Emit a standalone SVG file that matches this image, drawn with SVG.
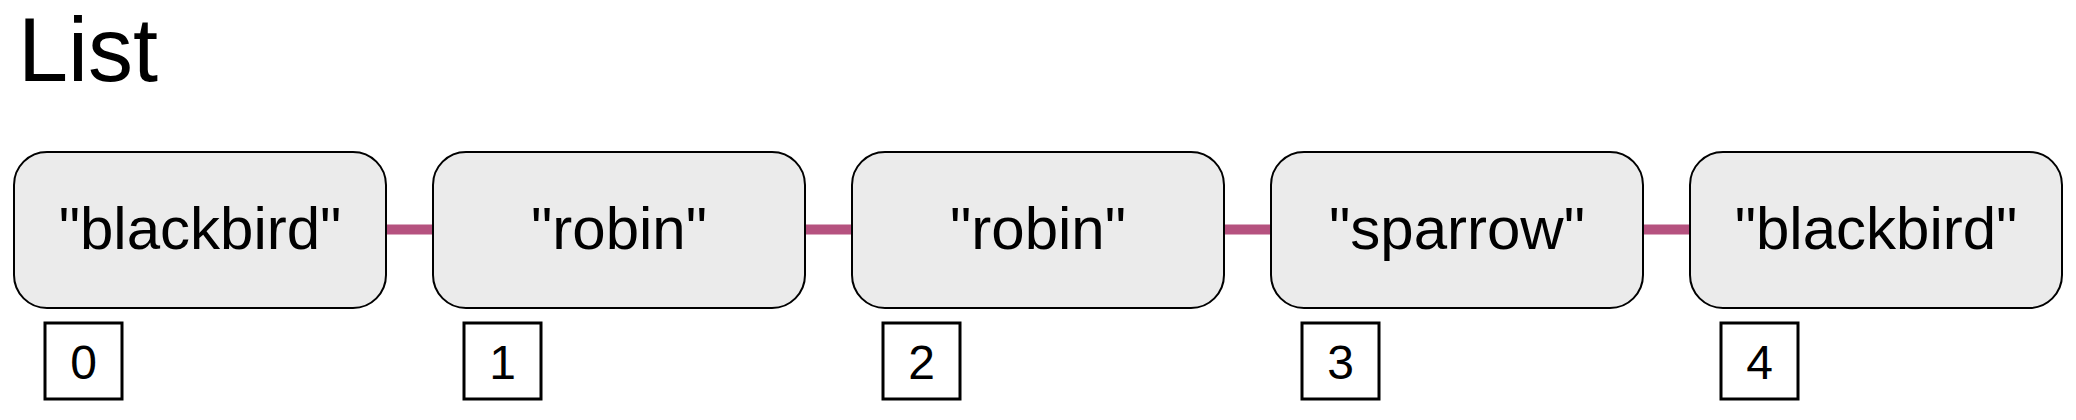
<svg xmlns="http://www.w3.org/2000/svg" width="2076" height="420" viewBox="0 0 2076 420">
<style>
.node rect{fill:#ebebeb;stroke:#000;stroke-width:2}
.lbl{font-family:"Liberation Sans",Arial,sans-serif;font-size:60px;fill:#000;text-anchor:middle}
.idx rect{fill:#fff;stroke:#000;stroke-width:3}
.idx text{font-family:"Liberation Sans",Arial,sans-serif;font-size:48px;fill:#000;text-anchor:middle}
.conn line{stroke:#b5527f;stroke-width:10}
</style>
<rect width="2076" height="420" fill="#fff"/>
<text x="18" y="81" font-family="'Liberation Sans',Arial,sans-serif" font-size="90" fill="#000">List</text>
<g id="connectors" class="conn">
<line x1="386" y1="229.5" x2="433" y2="229.5"/>
<line x1="805" y1="229.5" x2="852" y2="229.5"/>
<line x1="1224" y1="229.5" x2="1271" y2="229.5"/>
<line x1="1643" y1="229.5" x2="1690" y2="229.5"/>
</g>
<g id="node0" class="node"><rect x="14" y="152" width="372" height="156" rx="33"/><text class="lbl" x="200" y="249">"blackbird"</text></g>
<g id="node1" class="node"><rect x="433" y="152" width="372" height="156" rx="33"/><text class="lbl" x="619" y="249">"robin"</text></g>
<g id="node2" class="node"><rect x="852" y="152" width="372" height="156" rx="33"/><text class="lbl" x="1038" y="249">"robin"</text></g>
<g id="node3" class="node"><rect x="1271" y="152" width="372" height="156" rx="33"/><text class="lbl" x="1457" y="249">"sparrow"</text></g>
<g id="node4" class="node"><rect x="1690" y="152" width="372" height="156" rx="33"/><text class="lbl" x="1876" y="249">"blackbird"</text></g>
<g id="index0" class="idx"><rect x="45" y="323" width="77" height="76"/><text x="83.5" y="379">0</text></g>
<g id="index1" class="idx"><rect x="464" y="323" width="77" height="76"/><text x="502.5" y="379">1</text></g>
<g id="index2" class="idx"><rect x="883" y="323" width="77" height="76"/><text x="921.5" y="379">2</text></g>
<g id="index3" class="idx"><rect x="1302" y="323" width="77" height="76"/><text x="1340.5" y="379">3</text></g>
<g id="index4" class="idx"><rect x="1721" y="323" width="77" height="76"/><text x="1759.5" y="379">4</text></g>
</svg>
